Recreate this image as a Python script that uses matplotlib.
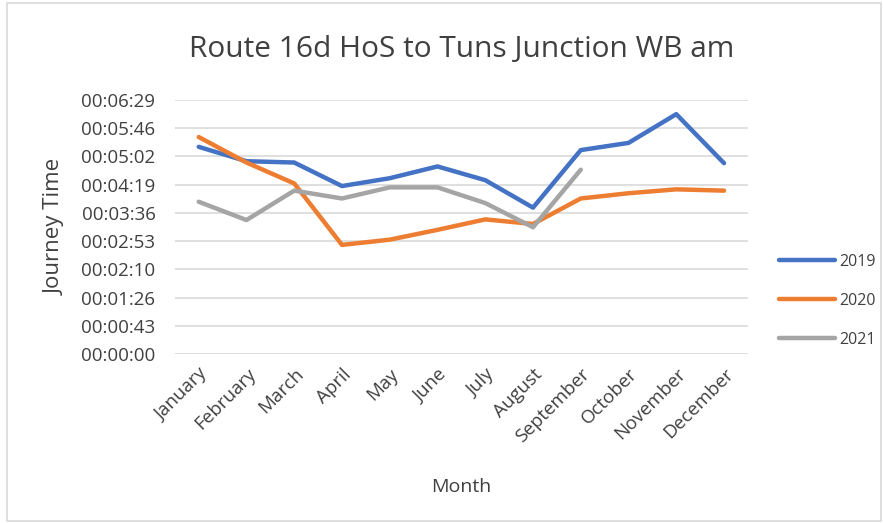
import matplotlib
matplotlib.use("Agg")
import matplotlib.pyplot as plt
from matplotlib.ticker import FuncFormatter, MultipleLocator
from matplotlib.patches import Rectangle

months = ["January", "February", "March", "April", "May", "June", "July",
          "August", "September", "October", "November", "December"]

# journey times in seconds
y2019 = [317, 295, 293, 257, 269, 287, 266, 224, 312, 323, 367, 292]
y2020 = [332, 293, 261, 167, 175, 190, 206, 199, 238, 246, 252, 250]
y2021 = [233, 205, 250, 238, 255, 255, 231, 194, 282]

series = [("2019", y2019, "#4472C4"),
          ("2020", y2020, "#ED7D31"),
          ("2021", y2021, "#A5A5A5")]

plt.rcParams["font.family"] = ["Open Sans", "DejaVu Sans"]
text_col = "#404040"


def hms(v, pos):
    s = int(round(v))
    return "{:02d}:{:02d}:{:02d}".format(s // 3600, (s // 60) % 60, s % 60)


fig = plt.figure(figsize=(8.83, 5.23), dpi=100)
fig.patches.append(Rectangle((0.008, 0.004), 0.99, 0.99, transform=fig.transFigure,
                             fill=False, edgecolor="#d9d9d9", linewidth=1.2))
ax = fig.add_axes([0.198, 0.323, 0.649, 0.486])

for name, vals, col in series:
    ax.plot(range(len(vals)), vals, color=col, linewidth=3.2, label=name,
            solid_capstyle="round", solid_joinstyle="round")

ax.set_xlim(-0.5, len(months) - 0.5)
ax.set_ylim(0, 388.8)
ax.yaxis.set_major_locator(MultipleLocator(43.2))
ax.yaxis.set_major_formatter(FuncFormatter(hms))
ax.set_xticks(range(len(months)))
ax.set_xticklabels(months, rotation=45, ha="right", rotation_mode="anchor")
ax.grid(axis="y", color="#d9d9d9", linewidth=1.2)
ax.set_axisbelow(True)
for sp in ax.spines.values():
    sp.set_visible(False)
ax.tick_params(length=0, colors=text_col, labelsize=13.5)
ax.tick_params(axis="y", pad=14)
ax.tick_params(axis="x", pad=8)

ax.set_title("Route 16d HoS to Tuns Junction WB am", fontsize=21.5,
             color=text_col, pad=31)
ax.set_xlabel("Month", fontsize=14, color=text_col, labelpad=23)
ax.set_ylabel("Journey Time", fontsize=16, color=text_col, labelpad=11)

ax.legend(loc="center left", bbox_to_anchor=(1.03, 0.21), frameon=False,
          handlelength=3.5, labelspacing=1.45, fontsize=11.5,
          labelcolor=text_col, handletextpad=0.25)

fig.savefig("out.png", dpi=100)
